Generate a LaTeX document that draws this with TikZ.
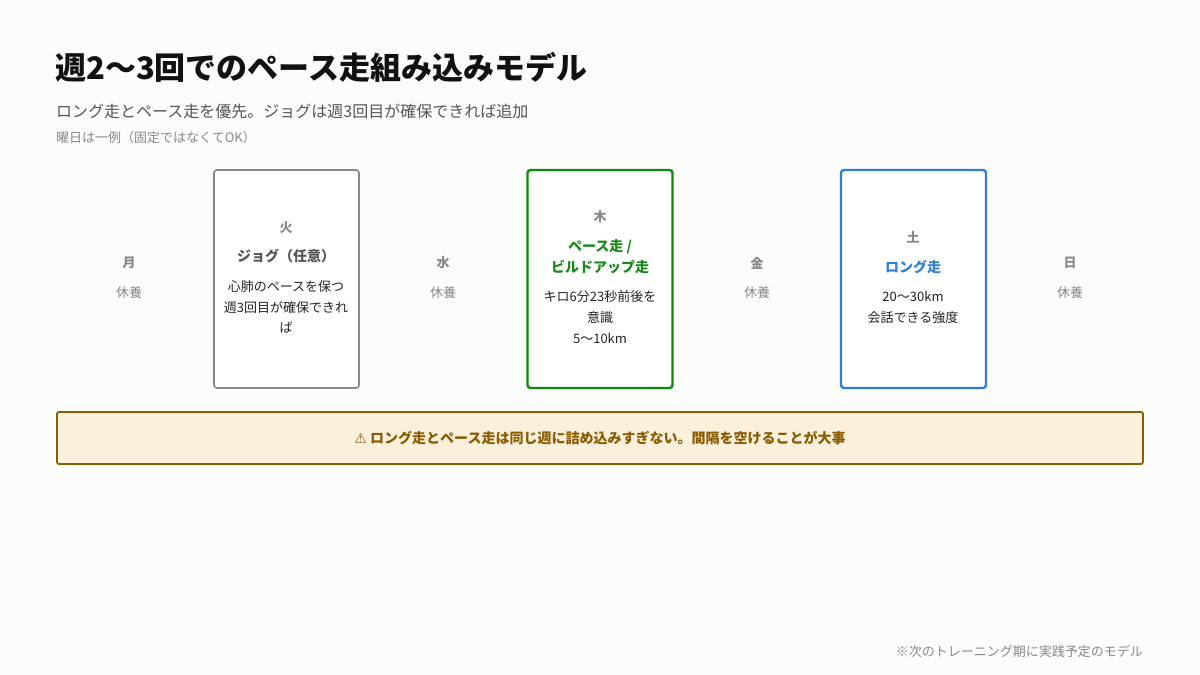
\documentclass[tikz,border=0pt]{standalone}
\usepackage{fontspec}
\setmainfont{Noto Sans CJK JP}
\newfontfamily\symfont{DejaVu Sans}
\definecolor{bgc}{HTML}{FCFCFA}
\definecolor{titlec}{HTML}{111111}
\definecolor{subc}{HTML}{555555}
\definecolor{notec}{HTML}{888888}
\definecolor{dayc}{HTML}{888888}
\definecolor{bodyc}{HTML}{222222}
\definecolor{jogc}{HTML}{555555}
\definecolor{jogborder}{HTML}{888888}
\definecolor{paceborder}{HTML}{0A8A0A}
\definecolor{pacec}{HTML}{1A8A1A}
\definecolor{longborder}{HTML}{2F7FD8}
\definecolor{longc}{HTML}{2F7FD8}
\definecolor{warnfill}{HTML}{FBF0DC}
\definecolor{warnborder}{HTML}{8B5E00}
\definecolor{warnc}{HTML}{8B5A00}
\begin{document}
\begin{tikzpicture}[x=1pt,y=-1pt,
  daybox/.style={draw, fill=white, rounded corners=3pt, minimum width=145pt, minimum height=218pt, inner sep=0pt},
  daylabel/.style={font=\fontsize{13}{16}\selectfont\bfseries, text=dayc, inner sep=0pt},
  restlabel/.style={font=\fontsize{13}{16}\selectfont, text=dayc, inner sep=0pt},
  acttitle/.style={font=\fontsize{14}{21}\selectfont\bfseries, align=center, inner sep=0pt},
  actbody/.style={font=\fontsize{13}{20.8}\selectfont, text=bodyc, align=center, inner sep=0pt}
]
\useasboundingbox[fill=bgc] (0,0) rectangle (1200,675);

% header
\node[anchor=west, inner sep=0pt, font=\fontsize{31}{36}\selectfont\bfseries, text=titlec] (title) at (55,67) {週2〜3回でのペース走組み込みモデル};
\node[anchor=west, inner sep=0pt, font=\fontsize{16}{20}\selectfont, text=subc] (subtitle) at (56,111) {ロング走とペース走を優先。ジョグは週3回目が確保できれば追加};
\node[anchor=west, inner sep=0pt, font=\fontsize{13}{16}\selectfont, text=notec] (note) at (56,138) {曜日は一例（固定ではなくてOK）};

% Monday
\node[daylabel] (mon) at (129,263) {月};
\node[restlabel] (monrest) at (129,293) {休養};

% Tuesday
\node[daybox, draw=jogborder, line width=1.6pt] (tuebox) at (286.5,279) {};
\node[daylabel] (tue) at (286,228) {火};
\node[acttitle, text=jogc] (tuetitle) at (286,256) {ジョグ（任意）};
\node[actbody] (tuebody) at (286,307) {心肺のペースを保つ\\週3回目が確保できれ\\ば};

% Wednesday
\node[daylabel] (wed) at (443,263) {水};
\node[restlabel] (wedrest) at (443,293) {休養};

% Thursday
\node[daybox, draw=paceborder, line width=2.4pt] (thubox) at (600,279) {};
\node[daylabel] (thu) at (600,217) {木};
\node[acttitle, text=pacec] (thutitle) at (600,257) {ペース走 /\\ビルドアップ走};
\node[actbody] (thubody) at (600,317) {キロ6分23秒前後を\\意識\\5〜10km};

% Friday
\node[daylabel] (fri) at (757,263) {金};
\node[restlabel] (frirest) at (757,293) {休養};

% Saturday
\node[daybox, draw=longborder, line width=2.4pt] (satbox) at (913.5,279) {};
\node[daylabel] (sat) at (913,237) {土};
\node[acttitle, text=longc] (sattitle) at (913,267) {ロング走};
\node[actbody] (satbody) at (913,307.5) {20〜30km\\会話できる強度};

% Sunday
\node[daylabel] (sun) at (1070,263) {日};
\node[restlabel] (sunrest) at (1070,293) {休養};

% warning
\node[draw=warnborder, fill=warnfill, line width=1.8pt, rounded corners=2pt, minimum width=1086pt, minimum height=52pt, inner sep=0pt] (warnbox) at (600,438) {};
\node[inner sep=0pt, font=\fontsize{14}{16}\selectfont\bfseries, text=warnc] (warn) at (600,438) {{\symfont ⚠} ロング走とペース走は同じ週に詰め込みすぎない。間隔を空けることが大事};

% footer
\node[anchor=east, inner sep=0pt, font=\fontsize{13}{16}\selectfont, text=notec] (footer) at (1143,652) {※次のトレーニング期に実践予定のモデル};
\end{tikzpicture}
\end{document}
